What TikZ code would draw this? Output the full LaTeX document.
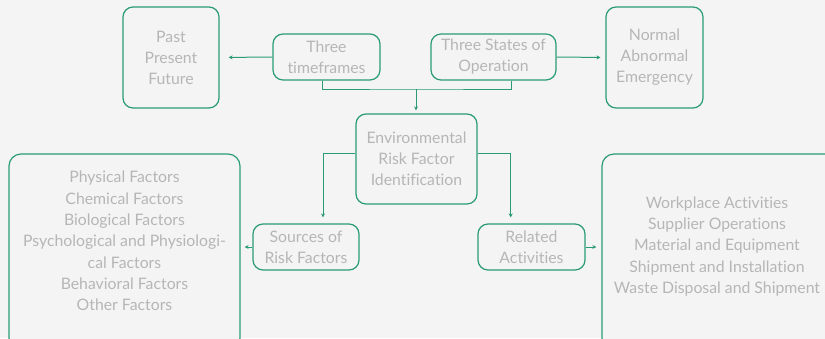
\documentclass[tikz,border=0pt]{standalone}
\usepackage{fontspec}
\setmainfont{Lato}[Ligatures=NoCommon]
\usetikzlibrary{arrows.meta}
\definecolor{bgc}{HTML}{F4F4F4}
\definecolor{linec}{HTML}{2A9B74}
\definecolor{txtc}{HTML}{B6B6B6}
\begin{document}
\begin{tikzpicture}[x=1pt,y=-1pt,
  box/.style={draw=linec, line width=1.2pt, fill=bgc, rounded corners=10pt,
    inner sep=0pt, align=center, text=txtc, font=\fontsize{15.8}{21}\selectfont},
  bigbox/.style={box, rounded corners=12pt},
  label text/.style={inner sep=0pt, align=center, text=txtc, font=\fontsize{15.8}{21.3}\selectfont},
  conn/.style={draw=linec, line width=1pt},
  arr/.style={conn, -{Stealth[length=4pt,width=4pt]}}]
\fill[bgc] (0,0) rectangle (825,338);
\clip (0,0) rectangle (825,338);
\useasboundingbox (0,0) rectangle (825,338);

% upper row
\node[box, minimum width=96pt, minimum height=101pt] (past) at (171,57.5) {Past\\Present\\Future};
\node[box, minimum width=107pt, minimum height=46pt] (tf) at (326.5,57) {Three\\timeframes};
\node[box, minimum width=125pt, minimum height=46pt] (ts) at (493.5,57) {Three States of\\Operation};
\node[box, minimum width=97pt, minimum height=101pt] (norm) at (654.5,57.5) {Normal\\Abnormal\\Emergency};

% central node
\node[box, minimum width=121pt, minimum height=90pt] (env) at (416.5,159) {Environmental\\Risk Factor\\Identification};

% second row
\node[box, minimum width=106pt, minimum height=46pt] (src) at (306,247) {Sources of\\Risk Factors};
\node[box, minimum width=107pt, minimum height=46pt] (rel) at (531.5,247) {Related\\Activities};

% large lists
\node[bigbox, minimum width=231pt, minimum height=196pt] (srcbox) at (124.5,252) {};
\node[label text] (srctext) at (124.5,241) {Physical Factors\\Chemical Factors\\Biological Factors\\Psychological and Physiologi-\\cal Factors\\Behavioral Factors\\Other Factors};
\node[bigbox, minimum width=240pt, minimum height=196pt] (relbox) at (722,252) {};
\node[label text] (reltext) at (717,246.5) {Workplace Activities\\Supplier Operations\\Material and Equipment\\Shipment and Installation\\Waste Disposal and Shipment};

% connectors
\coordinate (join) at (416,89);
\draw[arr, shorten >=9pt] (tf.west) -- (past.east);
\draw[arr, shorten >=5pt] (ts.east) -- (norm.west);
\draw[conn] (tf.south -| 322,0) |- (join) -| (ts.south -| 511.7,0);
\draw[arr, shorten >=3pt] (join) -- (env.north -| join);
\draw[arr, shorten >=6pt] (env.west |- 0,153) -| (src.north -| 323,0);
\draw[arr, shorten >=6pt] (env.east |- 0,153) -| (rel.north -| 510.7,0);
\draw[arr, shorten >=4pt] (src.west) -- (srcbox.east |- src.west);
\draw[arr, shorten >=5pt] (rel.east) -- (relbox.west |- rel.east);
\end{tikzpicture}
\end{document}
